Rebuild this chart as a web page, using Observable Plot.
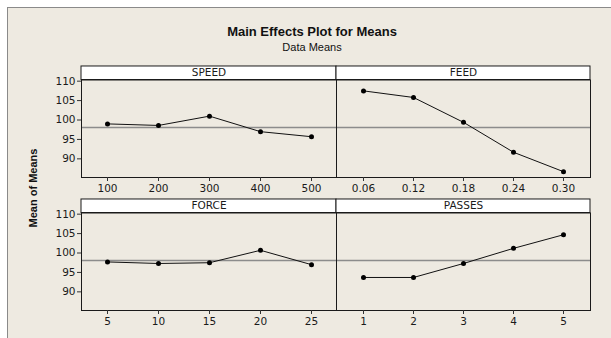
<!DOCTYPE html>
<html>
<head>
<meta charset="utf-8">
<script src="https://cdn.jsdelivr.net/npm/d3@7"></script>
<script src="https://cdn.jsdelivr.net/npm/@observablehq/plot@0.6"></script>
<style>
  html, body { margin: 0; padding: 0; background: #ffffff; }
  #chart { position: relative; width: 611px; height: 338px; overflow: hidden; background: #ffffff; }
  #bg { position: absolute; left: 7px; top: 7px; right: 0; bottom: 0; background: #EEEAE1;
        border-left: 1px solid #8a8a8a; border-top: 1px solid #8a8a8a; }
  .title { position: absolute; left: 0; width: 624px; text-align: center; font-family: "Liberation Sans", Arial, sans-serif; color: #111; }
  .panel { position: absolute; left: 0; top: 0; }
  #ylab { position: absolute; left: 33px; top: 188px; transform: translate(-50%, -50%) rotate(-90deg);
          font: bold 11px "Liberation Sans", Arial, sans-serif; color: #111; white-space: nowrap; }
</style>
</head>
<body>
<div id="chart">
  <div id="bg"></div>
  <div class="title" style="top:24px;font-weight:bold;font-size:13px;">Main Effects Plot for Means</div>
  <div class="title" style="top:41px;font-size:11px;">Data Means</div>
  <div id="ylab">Mean of Means</div>
</div>
<script>
// ---- data ----
const factors = ["SPEED", "FEED", "FORCE", "PASSES"];
const speedLevels = ["100", "200", "300", "400", "500"];
const speedMeans = [99.0, 98.6, 101.0, 97.0, 95.7];
const feedLevels = ["0.06", "0.12", "0.18", "0.24", "0.30"];
const feedMeans = [107.5, 105.8, 99.4, 91.7, 86.7];
const forceLevels = ["5", "10", "15", "20", "25"];
const forceMeans = [97.7, 97.3, 97.5, 100.7, 97.0];
const passesLevels = ["1", "2", "3", "4", "5"];
const passesMeans = [93.7, 93.7, 97.3, 101.2, 104.7];
const grandMean = 98.1;
const yTicks = [90, 95, 100, 105, 110];

// ---- layout ----
const W = 611, H = 338;
const yDomain = [85.2, 110.3];
const stripTopValue = 113.78; // strip header sits above the data area
const panels = [
  {name: factors[0], levels: speedLevels, means: speedMeans, left: 81, right: 336, top: 79.5, bottom: 177, yAxis: true},
  {name: factors[1], levels: feedLevels, means: feedMeans, left: 336, right: 590, top: 79.5, bottom: 177, yAxis: false},
  {name: factors[2], levels: forceLevels, means: forceMeans, left: 81, right: 336, top: 212.5, bottom: 310, yAxis: true},
  {name: factors[3], levels: passesLevels, means: passesMeans, left: 336, right: 590, top: 212.5, bottom: 310, yAxis: false}
];

const chart = document.getElementById("chart");
for (const p of panels) {
  const rows = p.levels.map((lv, i) => ({level: lv, mean: p.means[i]}));
  const marks = [
    Plot.rect([0], {y1: yDomain[1], y2: stripTopValue, fill: "white", stroke: "#1a1a1a", strokeWidth: 1, inset: 0}),
    Plot.text([p.name], {frameAnchor: "top", dy: -7, text: d => d, fontSize: 10.5, fill: "#1a1a1a", lineAnchor: "middle"}),
    Plot.ruleY([grandMean], {stroke: "#8c8c8c", strokeWidth: 1.5}),
    Plot.line(rows, {x: "level", y: "mean", stroke: "#111", strokeWidth: 1}),
    Plot.dot(rows, {x: "level", y: "mean", r: 2.5, fill: "#000", stroke: "none"}),
    Plot.frame({stroke: "#1a1a1a", strokeWidth: 1}),
    Plot.axisX({tickSize: 4, tickPadding: 3, fontSize: 10.5, label: null, stroke: "#333", fill: "#1a1a1a"})
  ];
  if (p.yAxis) {
    marks.push(Plot.axisY(yTicks, {tickSize: 4, tickPadding: 2, fontSize: 10.5, label: null, stroke: "#333", fill: "#1a1a1a"}));
  }
  const svg = Plot.plot({
    width: W, height: H,
    marginLeft: p.left, marginRight: W - p.right,
    marginTop: p.top, marginBottom: H - p.bottom,
    style: {background: "transparent", fontFamily: "'DejaVu Sans', Verdana, sans-serif", overflow: "visible"},
    x: {type: "point", domain: p.levels, padding: 0.5},
    y: {domain: yDomain, axis: null},
    marks
  });
  svg.classList.add("panel");
  svg.style.position = "absolute";
  svg.style.left = "0px";
  svg.style.top = "0px";
  chart.appendChild(svg);
}
</script>
</body>
</html>
